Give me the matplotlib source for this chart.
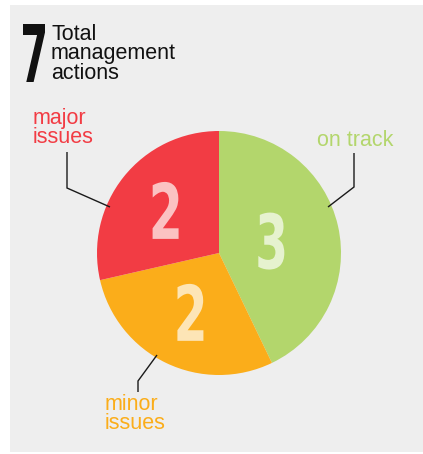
import matplotlib
matplotlib.use("Agg")
import matplotlib.pyplot as plt
from matplotlib.patches import Rectangle, PathPatch
from matplotlib.textpath import TextPath
from matplotlib.font_manager import FontProperties
from matplotlib.transforms import Affine2D
import numpy as np

# Data
categories = ["on track", "minor issues", "major issues"]
counts = [3, 2, 2]
slice_colors = ["#b3d66c", "#fbad1a", "#f23c44"]
digit_colors = ["#e6f2cf", "#fde5b6", "#fbc2c2"]
title_lines = ["Total", "management", "actions"]

W, H = 423, 454
fig = plt.figure(figsize=(W / 100, H / 100), dpi=100)
fig.patch.set_facecolor("white")
ax = fig.add_axes([0, 0, 1, 1])

# light grey card behind everything
ax.add_patch(Rectangle((10, 2), W - 10, H - 7, facecolor="#eeeeee",
                       edgecolor="none", zorder=0))

cx, cy, r = 219, 201, 122
wedges, _ = ax.pie(counts, colors=slice_colors, startangle=90,
                   counterclock=False, center=(cx, cy), radius=r,
                   wedgeprops=dict(linewidth=0))

digit_font = FontProperties(family="DejaVu Sans", weight="bold")


def boxed_digit(s, xc, yc, w, h, color):
    """Draw a string as a path stretched into a w x h box centred at (xc, yc)."""
    tp = TextPath((0, 0), s, size=100, prop=digit_font)
    ext = tp.get_extents()
    tr = (Affine2D()
          .translate(-(ext.x0 + ext.width / 2), -(ext.y0 + ext.height / 2))
          .scale(w / ext.width, h / ext.height)
          .translate(xc, yc))
    ax.add_patch(PathPatch(tr.transform_path(tp), facecolor=color,
                           edgecolor="none", zorder=5))


# count inside each slice
radial = [0.44, 0.54, 0.56]
for wdg, n, col, rf in zip(wedges, counts, digit_colors, radial):
    mid = np.deg2rad((wdg.theta1 + wdg.theta2) / 2)
    boxed_digit(str(n), cx + rf * r * np.cos(mid), cy + rf * r * np.sin(mid),
                26, 57, col)

# headline total
total = sum(counts)
boxed_digit(str(total), 34, H - 53, 22, 58, "#111111")

text_font = dict(fontsize=15.5, family="Liberation Sans", linespacing=0.9)
ax.text(51, H - 24, "\n".join(title_lines), ha="left", va="top",
        color="#111111", **text_font)

# category labels with leader lines
ax.text(317, H - 130, "on track", ha="left", va="top",
        color=slice_colors[0], **text_font)
ax.text(105, H - 394, "minor\nissues", ha="left", va="top",
        color=slice_colors[1], **text_font)
ax.text(33, H - 108, "major\nissues", ha="left", va="top",
        color=slice_colors[2], **text_font)

leaders = [
    [(328, 207), (354, 187), (354, 153)],
    [(157, 355), (138, 381), (138, 392)],
    [(110, 207), (67, 188), (67, 152)],
]
for pts in leaders:
    xs = [p[0] for p in pts]
    ys = [H - p[1] for p in pts]
    ax.plot(xs, ys, color="#1a1a1a", lw=1.0, zorder=6,
            solid_capstyle="butt", solid_joinstyle="miter")

ax.set_xlim(0, W)
ax.set_ylim(0, H)
ax.set_aspect("equal")
ax.axis("off")

fig.savefig("out.png", dpi=100, facecolor="white")
